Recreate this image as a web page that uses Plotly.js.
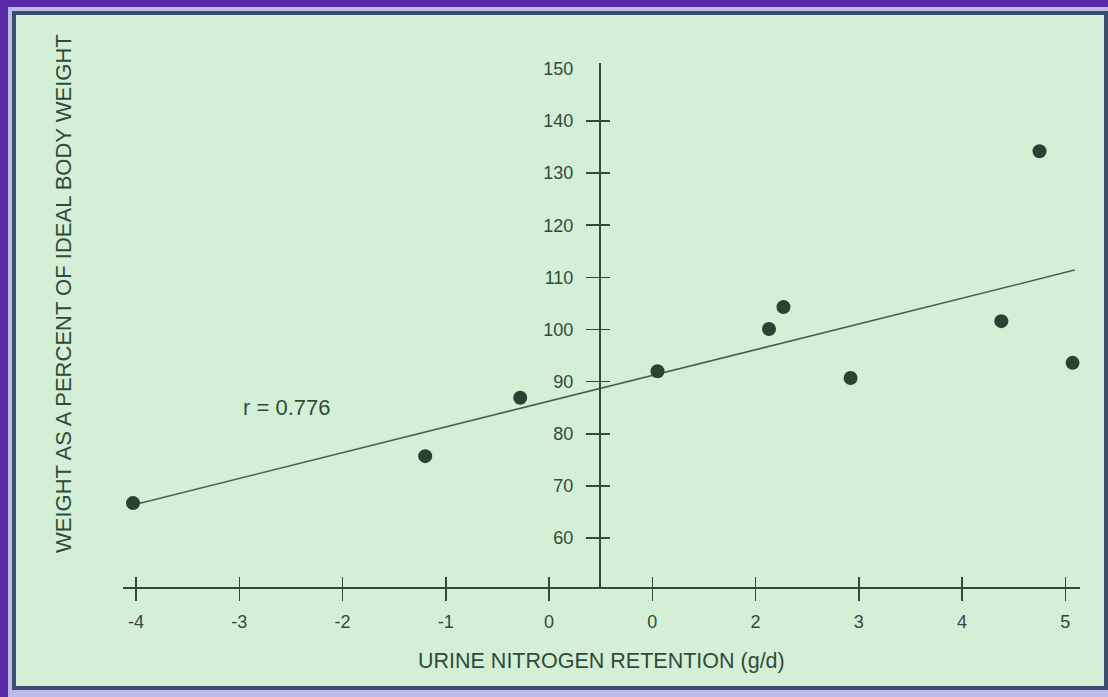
<!DOCTYPE html>
<html>
<head>
<meta charset="utf-8">
<script src="https://cdn.plot.ly/plotly-3.0.1.min.js"></script>
<style>
  html, body { margin: 0; padding: 0; width: 1108px; height: 697px; overflow: hidden; background: #5a2ba6; }
  #band  { position: absolute; left: 8px; top: 7px; right: 0; bottom: 0; background: #bdb9ea; }
  #panel { position: absolute; left: 12px; top: 11px; width: 1088px; height: 671px;
           border: 4px solid #3c4e70; background: #d3f0d7; }
  #chart { position: absolute; left: 0; top: 0; width: 1108px; height: 697px; }
</style>
</head>
<body>
<div id="band"></div>
<div id="panel"></div>
<div id="chart"></div>
<script>
// Urine nitrogen retention (g/d) vs weight as % of ideal body weight
const nitrogen  = [-4.03, -1.2, -0.28, 1.05, 2.13, 2.27, 2.92, 4.38, 4.75, 5.07];
const weightPct = [66.7, 75.7, 86.9, 92.0, 100.1, 104.3, 90.7, 101.6, 134.2, 93.6];

// Regression line end points
const fitX = [-4.04, 5.09];
const fitY = [66.3, 111.4];

const xTickVals = [-4, -3, -2, -1, 0, 1, 2, 3, 4, 5];
const xTickText = ['-4', '-3', '-2', '-1', '0', '0', '2', '3', '4', '5'];
const yLabelVals = [60, 70, 80, 90, 100, 110, 120, 130, 140, 150];
const yTickVals  = [60, 70, 80, 90, 100, 110, 120, 130, 140];

const rLabel = 'r = 0.776';
const rLabelAt = { x: -2.54, y: 84.75 };
const xTitle = 'URINE NITROGEN RETENTION (g/d)';
const yTitle = 'WEIGHT AS A PERCENT OF IDEAL BODY WEIGHT';

const xRange = [-4.127, 5.142];
const yRange = [50.6, 151.13];
const yAxisAt = 0.483;            // x value where the vertical axis crosses
const yAxisPos = (yAxisAt - xRange[0]) / (xRange[1] - xRange[0]);

const ink = '#314a39';
const font = 'Liberation Sans, Arial, sans-serif';

const traces = [
  // regression line (main subplot, drawn underneath)
  {
    x: fitX, y: fitY, xaxis: 'x', yaxis: 'y', mode: 'lines', type: 'scatter',
    line: { color: '#4a6151', width: 1.6 }, hoverinfo: 'skip', cliponaxis: false
  },
  // patients
  {
    x: nitrogen, y: weightPct, xaxis: 'x2', yaxis: 'y2', mode: 'markers', type: 'scatter',
    marker: { size: 14, color: '#2a4232', line: { width: 0 } }, cliponaxis: false
  },
  // correlation coefficient label
  {
    x: [rLabelAt.x], y: [rLabelAt.y], xaxis: 'x', yaxis: 'y3', mode: 'text', type: 'scatter',
    text: [rLabel], textposition: 'middle center',
    textfont: { family: font, size: 22, color: ink }, cliponaxis: false
  }
];

const baseY = {
  range: yRange, anchor: 'free', position: yAxisPos, showgrid: false, zeroline: false
};

const layout = {
  width: 1108, height: 697,
  margin: { l: 123, r: 28, t: 63, b: 110 },
  paper_bgcolor: 'rgba(0,0,0,0)',
  plot_bgcolor: 'rgba(0,0,0,0)',
  showlegend: false,
  font: { family: font, color: ink },
  xaxis: {
    range: xRange, showgrid: false, zeroline: false,
    showline: true, linecolor: ink, linewidth: 1.6,
    tickmode: 'array', tickvals: xTickVals, ticktext: xTickText,
    ticks: 'outside', ticklen: 12, tickwidth: 1.6, tickcolor: ink,
    ticklabelstandoff: 6,
    tickfont: { family: font, size: 18, color: ink }
  },
  // inner half of the crossing x ticks
  xaxis2: {
    range: xRange, overlaying: 'x', anchor: 'y', side: 'bottom',
    showgrid: false, zeroline: false, showline: false,
    tickmode: 'array', tickvals: xTickVals,
    ticks: 'inside', ticklen: 10, tickwidth: 1.6, tickcolor: ink,
    showticklabels: false
  },
  yaxis: Object.assign({}, baseY, {
    showline: true, linecolor: ink, linewidth: 1.6,
    tickmode: 'array', tickvals: yLabelVals,
    ticks: '', ticklabelstandoff: 22,
    tickfont: { family: font, size: 18, color: ink }
  }),
  // outer half of the crossing y ticks
  yaxis2: Object.assign({}, baseY, {
    overlaying: 'y', showline: false,
    tickmode: 'array', tickvals: yTickVals,
    ticks: 'outside', ticklen: 13, tickwidth: 1.6, tickcolor: ink,
    showticklabels: false
  }),
  // inner half of the crossing y ticks
  yaxis3: Object.assign({}, baseY, {
    overlaying: 'y', showline: false,
    tickmode: 'array', tickvals: yTickVals,
    ticks: 'inside', ticklen: 10, tickwidth: 1.6, tickcolor: ink,
    showticklabels: false
  }),
  annotations: [
    {
      text: xTitle, xref: 'paper', yref: 'paper', x: 0.4995, y: -0.141,
      xanchor: 'center', yanchor: 'middle', showarrow: false,
      font: { family: font, size: 21.5, color: ink }
    },
    {
      text: yTitle, xref: 'paper', yref: 'paper', x: -0.0627, y: 0.561,
      xanchor: 'center', yanchor: 'middle', textangle: -90, showarrow: false,
      font: { family: font, size: 22, color: ink }
    }
  ]
};

Plotly.newPlot('chart', traces, layout, { displayModeBar: false, staticPlot: true });
</script>
</body>
</html>
